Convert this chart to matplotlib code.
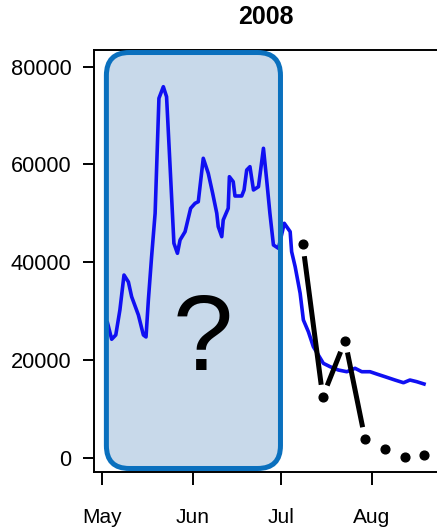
"""
2008 flow: daily series (blue) with weekly observations (black),
early season masked by a rounded box with a question mark.
"""
import matplotlib
matplotlib.use("Agg")
import matplotlib.pyplot as plt
import numpy as np
from matplotlib.patches import FancyBboxPatch

plt.rcParams["font.family"] = ["Liberation Sans", "DejaVu Sans"]

# days counted from May 1
blue_day = [2.0, 3.4, 4.8, 6.2, 7.6, 9.1, 10.2, 12.5, 14.2, 15.1, 15.9, 17.0,
            18.2, 19.5, 21.0, 22.1, 23.3, 24.6, 25.8, 26.7, 28.4, 30.3, 31.8,
            32.9, 34.6, 36.3, 37.8, 39.2, 39.7, 40.9, 41.4, 43.1, 43.5, 44.8,
            45.4, 47.7, 48.5, 49.4, 50.5, 51.7, 53.4, 55.1, 56.2, 57.3, 58.5,
            60.2, 62.2, 64.2, 64.7, 65.9, 67.6, 68.7, 70.4, 72.1, 75.5, 77.8,
            80.6, 83.5, 86.3, 88.6, 91.4, 93.7, 96.5, 99.9, 102.8, 105.0,
            107.3, 109.8]
blue_flow = [27530, 24200, 25080, 30190, 37350, 35930, 32920, 29170, 25080,
             24670, 32240, 41100, 49990, 73530, 75900, 73850, 59530, 43850,
             41800, 44530, 46220, 51010, 52030, 52360, 61250, 58180, 54080,
             49990, 47250, 45200, 48620, 51010, 57480, 56460, 53530, 53530,
             54760, 58850, 59530, 54760, 55430, 63290, 56800, 49990, 43500,
             42820, 47940, 46220, 42130, 39060, 33610, 28150, 25750, 22680,
             19280, 18590, 17910, 17560, 18260, 17560, 17560, 17090, 16540,
             15860, 15310, 15860, 15520, 15050]

obs_day = [68.5, 75.3, 82.9, 89.7, 96.5, 103.3, 109.9]
obs_flow = [43640, 12450, 23910, 3790, 1740, 200, 510]
n_joined = 4  # first observations joined by a line

month_day = [0, 31, 61, 92]
month_lab = ["May", "Jun", "Jul", "Aug"]
y_ticks = [0, 20000, 40000, 60000, 80000]

masked_span = (1.6, 60.9)  # days hidden behind the box

W, H, DPI = 437, 532, 100
fig = plt.figure(figsize=(W / DPI, H / DPI), dpi=DPI)
ax = fig.add_axes([93.5 / W, (H - 472) / H, (439 - 93.5) / W, 422 / H])

ax.set_xlim(-2.79, 114.9)
ax.set_ylim(-2968, 83415)

# px per unit, used to keep the box corners round and the gaps even
px_x = (439 - 93.5) / (114.9 + 2.79)
px_y = 422 / (83415 + 2968)
aspect = px_x / px_y

y0, y1 = -2250, 82900
box_kw = dict(boxstyle="round,pad=0,rounding_size=7.8", mutation_aspect=aspect)
fill = FancyBboxPatch((masked_span[0], y0), masked_span[1] - masked_span[0], y1 - y0,
                      facecolor="#c8d9ea", edgecolor="none", zorder=1, **box_kw)
edge = FancyBboxPatch((masked_span[0], y0), masked_span[1] - masked_span[0], y1 - y0,
                      facecolor="none", edgecolor="#0a70be", linewidth=3.6,
                      zorder=4, clip_on=False, **box_kw)
ax.add_patch(fill)
ax.add_patch(edge)

ax.plot(blue_day, blue_flow, color="#1010f2", linewidth=2.6, zorder=2)

ax.plot(obs_day, obs_flow, "o", color="black", markersize=6.3, zorder=5)

# R-style type="b": segments stop short of the points
gap = 12.0
pts = ax.transData.transform(np.column_stack([obs_day[:n_joined], obs_flow[:n_joined]]))
for p, q in zip(pts[:-1], pts[1:]):
    d = q - p
    u = d / np.hypot(*d)
    seg = ax.transData.inverted().transform(np.array([p + u * gap, q - u * gap]))
    ax.plot(seg[:, 0], seg[:, 1], color="black", linewidth=3.6,
            solid_capstyle="butt", zorder=3)

ax.text(34.4, 17900, "?", fontsize=78, ha="center", va="baseline", zorder=6)

ax.set_xticks(month_day)
ax.set_xticklabels(month_lab)
ax.set_yticks(y_ticks)
ax.set_yticklabels([str(v) for v in y_ticks])
ax.tick_params(axis="x", length=9.5, width=1.4, pad=16.5, labelsize=15)
ax.tick_params(axis="y", length=8, width=1.4, pad=8, labelsize=15.7)
for s in ax.spines.values():
    s.set_linewidth(1.4)

fig.text(266 / W, 1 - 17.5 / H, "2008", fontsize=18, fontweight="bold",
         ha="center", va="center")

fig.savefig("out.png", dpi=DPI)
